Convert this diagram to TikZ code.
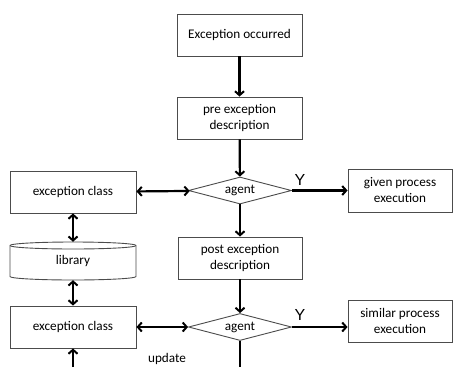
\documentclass[tikz,border=0pt]{standalone}
\usepackage{fontspec}
\setmainfont{Carlito}
\newfontfamily\yfont{Liberation Sans}
\usetikzlibrary{arrows.meta,shapes.geometric}
\tikzset{
  txt/.style={font=\fontsize{13.2}{16}\selectfont},
  box/.style={txt, draw=black!70, line width=0.9pt, fill=white, inner sep=0pt, align=center},
  dia/.style={txt, diamond, draw=black!70, line width=0.9pt, fill=white, inner sep=0pt, aspect=3.8,
    minimum width=103pt, minimum height=27pt},
  tip/.tip={Straight Barb[length=4pt,width=9pt,line width=2pt]},
  conn/.style={line width=2.2pt, -tip},
  bconn/.style={line width=2.2pt, tip-tip},
  plain/.style={line width=2.2pt},
  ylab/.style={font=\yfont\fontsize{16}{16}\selectfont},
}
\begin{document}
\begin{tikzpicture}[x=1pt,y=-1pt]
\useasboundingbox (0,0) rectangle (454,367);
% boxes
\node[box, minimum width=125pt, minimum height=42pt] (occ) at (239.5,35) {Exception occurred};
\node[box, minimum width=125pt, minimum height=42pt] (pre) at (239.5,118) {pre exception\\description};
\node[dia] (ag1) at (240,190.5) {agent};
\node[box, minimum width=126pt, minimum height=42pt] (ec1) at (73,192) {exception class};
\node[box, minimum width=104pt, minimum height=43pt] (given) at (400,190.5) {given process\\execution};
\node[box, minimum width=124pt, minimum height=42pt] (post) at (240,258) {post exception\\description};
\node[dia] (ag2) at (240,327) {agent};
\node[box, minimum width=126pt, minimum height=42pt] (ec2) at (73,327) {exception class};
\node[box, minimum width=104pt, minimum height=42pt] (sim) at (400,321) {similar process\\execution};
% library cylinder (drawn directly)
\draw[draw=black!70, line width=0.9pt, fill=white]
  (10,245.5) -- (10,276.5) arc[start angle=180, end angle=360, x radius=63pt, y radius=3.5pt]
  -- (136,245.5) arc[start angle=0, end angle=180, x radius=63pt, y radius=3.5pt] -- cycle;
\draw[draw=black!70, line width=0.9pt] (10,245.5) arc[start angle=180, end angle=360, x radius=63pt, y radius=3.5pt];
\node[txt, minimum width=126pt, minimum height=38pt, inner sep=0pt] (lib) at (73,261) {library};
% labels
\node[ylab] (y1) at (300,180) {Y};
\node[ylab] (y2) at (300,315) {Y};
\node[txt] (upd) at (167,359) {update};
\coordinate (bl) at (73,367);
\coordinate (br) at (240,367);
% connectors
\draw[conn] (occ) -- (pre);
\draw[conn] (pre) -- (ag1);
\draw[conn] (ag1) -- (post);
\draw[conn] (post) -- (ag2);
\draw[conn] (ag1) -- (given);
\draw[conn] (ag2) -- (sim.west |- ag2);
\draw[bconn] (ec1) -- (ag1);
\draw[bconn] (ec2) -- (ag2);
\draw[bconn] (ec1) -- (lib.north);
\draw[bconn] (lib.south) -- (ec2);
\draw[conn] (bl) -- (ec2);
\draw[plain] (ag2) -- (br);
\end{tikzpicture}
\end{document}
